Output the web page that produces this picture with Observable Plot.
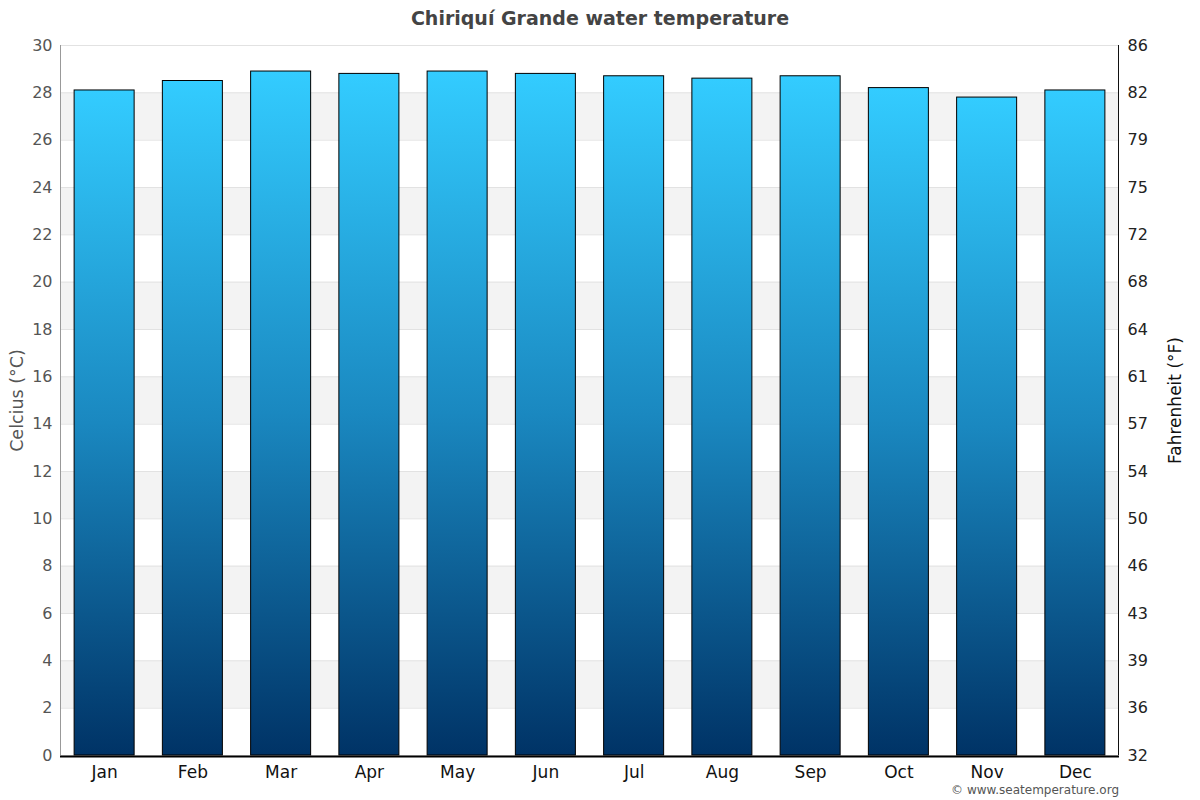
<!DOCTYPE html>
<html>
<head>
<meta charset="utf-8">
<script src="https://cdn.jsdelivr.net/npm/d3@7"></script>
<script src="https://cdn.jsdelivr.net/npm/@observablehq/plot@0.6"></script>
<style>
  body { margin: 0; background: #fff; font-family: "DejaVu Sans", sans-serif; }
  #wrap { position: relative; width: 1200px; height: 800px; }
  #title { position: absolute; top: 7px; left: 0; width: 1200px; text-align: center;
           font: bold 19px "DejaVu Sans", sans-serif; color: #444; }
  #credit { position: absolute; top: 783px; right: 81px;
            font: 12px "DejaVu Sans", sans-serif; color: #555; }
  svg { display: block; }
</style>
</head>
<body>
<div id="wrap">
  <div id="chart"></div>
  <div id="title">Chiriquí Grande water temperature</div>
  <div id="credit">© www.seatemperature.org</div>
</div>
<script>
const months = ["Jan","Feb","Mar","Apr","May","Jun","Jul","Aug","Sep","Oct","Nov","Dec"];
const tempsC = [28.1, 28.5, 28.9, 28.8, 28.9, 28.8, 28.7, 28.6, 28.7, 28.2, 27.8, 28.1];
const celsiusTicks = [0,2,4,6,8,10,12,14,16,18,20,22,24,26,28,30];
const fahrenheitLabels = [32,36,39,43,46,50,54,57,61,64,68,72,75,79,82,86];
const bandStarts = [2,6,10,14,18,22,26];

const data = months.map((m, i) => ({month: m, temp: tempsC[i]}));
const bands = bandStarts.map(s => ({y1: s, y2: s + 2}));
const fMap = new Map(celsiusTicks.map((c, i) => [c, fahrenheitLabels[i]]));

const defs = () => {
  const d = d3.create("svg:defs");
  const g = d.append("linearGradient").attr("id", "barGrad")
    .attr("x1", 0).attr("y1", 0).attr("x2", 0).attr("y2", 1);
  g.append("stop").attr("offset", "0%").attr("stop-color", "#33ccff");
  g.append("stop").attr("offset", "50%").attr("stop-color", "#1a88c0");
  g.append("stop").attr("offset", "100%").attr("stop-color", "#003366");
  return d.node();
};

const sideLines = (index, scales, values, dim) => {
  const g = d3.create("svg:g");
  const top = dim.marginTop, bottom = dim.height - dim.marginBottom;
  const left = dim.marginLeft, right = dim.width - dim.marginRight;
  g.append("line").attr("x1", left + 0.5).attr("x2", left + 0.5).attr("y1", top).attr("y2", bottom)
    .attr("stroke", "#999").attr("stroke-width", 1);
  g.append("line").attr("x1", right - 0.5).attr("x2", right - 0.5).attr("y1", top).attr("y2", bottom)
    .attr("stroke", "#111").attr("stroke-width", 1);
  return g.node();
};

const chart = Plot.plot({
  width: 1200,
  height: 800,
  marginTop: 45,
  marginBottom: 45,
  marginLeft: 60,
  marginRight: 81,
  style: {fontFamily: "DejaVu Sans, sans-serif", background: "#fff"},
  x: {domain: months, paddingInner: 0.32, paddingOuter: 0.16, round: false, label: null},
  y: {domain: [0, 30], label: null},
  marks: [
    defs,
    Plot.rect(bands, {y1: "y1", y2: "y2", fill: "#f3f3f3"}),
    Plot.ruleY(celsiusTicks, {stroke: "#e2e2e2", strokeWidth: 1}),
    Plot.barY(data, {x: "month", y: "temp", fill: "url(#barGrad)", stroke: "#000", strokeWidth: 1}),
    Plot.axisY({anchor: "left", ticks: celsiusTicks, tickSize: 0, tickPadding: 8,
      fontSize: 16, fill: "#555", label: null}),
    Plot.axisY({anchor: "right", ticks: celsiusTicks, tickSize: 0, tickPadding: 8,
      tickFormat: d => fMap.get(d), fontSize: 16, fill: "#222", label: null}),
    Plot.axisX({anchor: "bottom", tickSize: 0, tickPadding: 10, fontSize: 17, fill: "#111", label: null}),
    sideLines,
    Plot.ruleY([0], {stroke: "#000", strokeWidth: 2, dy: 1}),
    Plot.text(["Celcius (°C)"], {frameAnchor: "left", dx: -43, rotate: -90, textAnchor: "middle",
      fontSize: 17.5, fill: "#555"}),
    Plot.text(["Fahrenheit (°F)"], {frameAnchor: "right", dx: 56, rotate: -90, textAnchor: "middle",
      fontSize: 17, fill: "#111"})
  ]
});
document.getElementById("chart").append(chart);
</script>
</body>
</html>
